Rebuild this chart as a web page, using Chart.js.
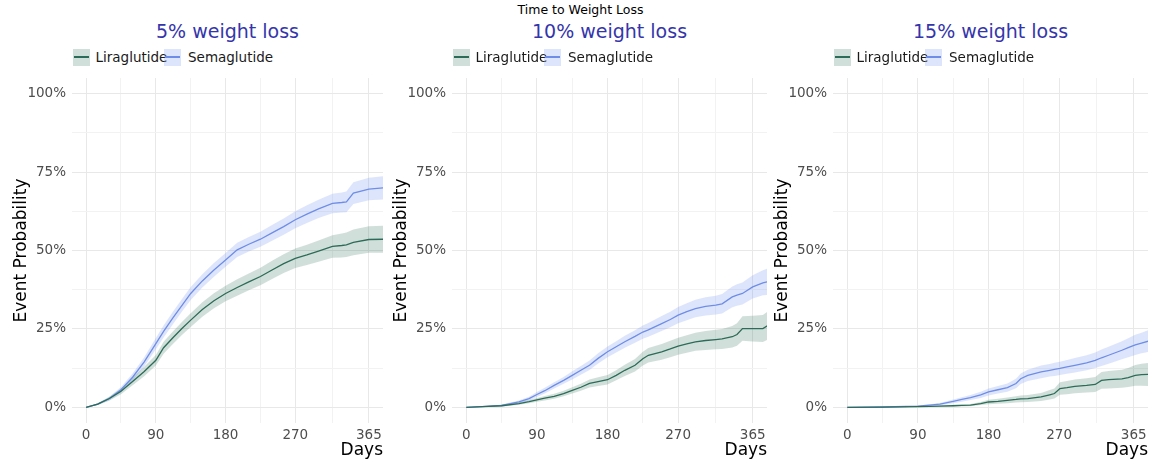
<!DOCTYPE html>
<html>
<head>
<meta charset="utf-8">
<script src="https://cdn.jsdelivr.net/npm/chart.js@4.4.0/dist/chart.umd.min.js"></script>
<style>
  body { margin: 0; background: #fff; width: 1151px; height: 462px; position: relative; overflow: hidden; font-family: "DejaVu Sans", sans-serif; }
  .abs { position: absolute; white-space: nowrap; }
  canvas { position: absolute; }
  .main { font-size: 12.5px; line-height: 12.5px; top: 3.5px; left: 5px; width: 1151px; text-align: center; color: #000; }
  .ptitle { font-size: 19px; line-height: 19px; top: 21.5px; color: #3535ab; text-align: center; }
  .key { position: absolute; width: 17px; height: 17px; top: 48.5px; }
  .key span { position: absolute; left: 1px; right: 1px; top: 7.8px; height: 1.5px; }
  .ltext { font-size: 13.5px; line-height: 13.5px; top: 50.5px; color: #1a1a1a; }
</style>
</head>
<body>
<div class="abs main">Time to Weight Loss</div>
<script>
// panel titles and series names
const panelTitles = ["5% weight loss", "10% weight loss", "15% weight loss"];
const seriesNames = ["Liraglutide", "Semaglutide"];

// x / y tick labels
const xTickLabels = [0, 90, 180, 270, 365];
const yTickLabels = ["0%", "25%", "50%", "75%", "100%"];

// 5% weight loss (event probability in %)
const days5 = [0, 15, 30, 45, 60, 75, 90, 100, 112, 124, 135, 150, 165, 180, 195, 210, 225, 240, 255, 270, 285, 300, 318, 330, 336, 345, 365, 385];
const lira5 = [0, 1.0, 2.8, 5.1, 8.2, 11.4, 15.0, 19.0, 22.2, 25.2, 27.8, 31.2, 34.0, 36.3, 38.2, 40.0, 41.7, 43.8, 45.8, 47.5, 48.6, 49.8, 51.3, 51.6, 51.8, 52.6, 53.5, 53.6];
const lira5Lo = [0, 0.7, 2.2, 4.2, 7.0, 9.9, 13.3, 17.1, 20.2, 23.1, 25.6, 28.9, 31.6, 33.8, 35.6, 37.3, 38.9, 40.9, 42.8, 44.4, 45.4, 46.4, 47.7, 47.8, 47.9, 48.5, 49.3, 49.3];
const lira5Hi = [0, 1.3, 3.4, 6.0, 9.4, 12.9, 16.7, 20.9, 24.2, 27.3, 30.0, 33.5, 36.4, 38.8, 40.8, 42.7, 44.5, 46.7, 48.8, 50.6, 51.8, 53.2, 54.9, 55.4, 55.7, 56.7, 57.7, 57.9];
const sema5 = [0, 1.0, 2.8, 5.6, 9.6, 14.5, 20.3, 24.2, 28.5, 32.6, 36.3, 40.3, 43.8, 47.0, 50.2, 52.0, 53.6, 55.6, 57.6, 59.8, 61.6, 63.3, 65.0, 65.3, 65.5, 68.3, 69.6, 70.0];
const sema5Lo = [0, 0.7, 2.2, 4.7, 8.4, 13.0, 18.5, 22.3, 26.5, 30.6, 34.2, 38.2, 41.6, 44.8, 47.9, 49.7, 51.2, 53.1, 55.0, 57.1, 58.8, 60.4, 61.9, 62.1, 62.2, 64.8, 66.0, 66.3];
const sema5Hi = [0, 1.3, 3.4, 6.5, 10.8, 16.0, 22.1, 26.1, 30.5, 34.6, 38.4, 42.4, 46.0, 49.2, 52.5, 54.3, 56.0, 58.1, 60.2, 62.5, 64.4, 66.2, 68.1, 68.5, 68.8, 71.8, 73.2, 73.7];

// 10% weight loss
const days10 = [0, 20, 45, 67, 80, 90, 100, 112, 124, 135, 146, 157, 168, 180, 191, 202, 215, 225, 232, 249, 260, 270, 281, 292, 305, 318, 326, 339, 345, 352, 365, 378, 385];
const lira10 = [0, 0.2, 0.5, 1.2, 1.8, 2.4, 2.9, 3.5, 4.4, 5.4, 6.4, 7.6, 8.2, 8.8, 10.2, 11.8, 13.4, 15.5, 16.6, 17.7, 18.6, 19.5, 20.2, 20.9, 21.3, 21.6, 21.8, 22.5, 23.2, 25.1, 25.1, 25.1, 26.2];
const lira10Lo = [0, 0.1, 0.2, 0.8, 1.3, 1.8, 2.2, 2.7, 3.5, 4.4, 5.3, 6.3, 6.8, 7.3, 8.6, 10.0, 11.4, 13.3, 14.3, 15.2, 16.0, 16.8, 17.4, 18.0, 18.3, 18.5, 18.6, 19.1, 19.6, 21.2, 21.0, 20.8, 21.7];
const lira10Hi = [0, 0.3, 0.8, 1.6, 2.3, 3.0, 3.6, 4.3, 5.3, 6.4, 7.5, 8.9, 9.6, 10.3, 11.8, 13.6, 15.4, 17.7, 18.9, 20.2, 21.2, 22.2, 23.0, 23.8, 24.3, 24.7, 25.0, 25.9, 26.8, 29.0, 29.2, 29.4, 30.7];
const sema10 = [0, 0.2, 0.6, 1.7, 2.8, 4.1, 5.3, 7.0, 8.6, 10.2, 11.8, 13.4, 15.6, 17.7, 19.3, 20.9, 22.6, 24.0, 24.7, 26.7, 28.0, 29.4, 30.5, 31.5, 32.2, 32.6, 33.0, 35.2, 35.8, 36.3, 38.4, 39.7, 40.1];
const sema10Lo = [0, 0.1, 0.3, 1.2, 2.2, 3.3, 4.4, 6.0, 7.5, 8.9, 10.4, 11.9, 14.0, 16.0, 17.5, 19.0, 20.6, 21.9, 22.5, 24.3, 25.5, 26.8, 27.8, 28.7, 29.3, 29.6, 29.9, 31.9, 32.4, 32.8, 34.7, 35.7, 35.9];
const sema10Hi = [0, 0.3, 0.9, 2.2, 3.4, 4.9, 6.2, 8.0, 9.7, 11.5, 13.2, 14.9, 17.2, 19.4, 21.1, 22.8, 24.6, 26.1, 26.9, 29.1, 30.5, 32.0, 33.2, 34.3, 35.1, 35.6, 36.1, 38.5, 39.2, 39.8, 42.1, 43.7, 44.3];

// 15% weight loss
const days15 = [0, 45, 90, 105, 118, 135, 146, 157, 170, 180, 192, 204, 215, 221, 230, 247, 258, 264, 271, 280, 290, 305, 316, 324, 333, 350, 358, 367, 375, 385];
const lira15 = [0, 0.05, 0.2, 0.3, 0.4, 0.5, 0.6, 0.7, 1.2, 1.7, 1.9, 2.2, 2.5, 2.7, 2.8, 3.3, 4.0, 4.4, 6.0, 6.3, 6.7, 7.0, 7.3, 8.6, 8.8, 9.1, 9.5, 10.2, 10.4, 10.5];
const lira15Lo = [0, 0, 0.1, 0.15, 0.2, 0.2, 0.3, 0.35, 0.7, 1.0, 1.1, 1.3, 1.5, 1.6, 1.7, 2.0, 2.5, 2.8, 4.0, 4.2, 4.5, 4.7, 4.9, 5.9, 6.0, 6.2, 6.5, 6.9, 6.9, 6.8];
const lira15Hi = [0, 0.1, 0.3, 0.45, 0.6, 0.8, 0.9, 1.05, 1.7, 2.4, 2.7, 3.1, 3.5, 3.8, 3.9, 4.6, 5.5, 6.0, 8.0, 8.4, 8.9, 9.3, 9.7, 11.3, 11.6, 12.0, 12.5, 13.5, 13.9, 14.2];
const sema15 = [0, 0.1, 0.4, 0.7, 1.0, 1.9, 2.5, 3.1, 4.0, 4.9, 5.6, 6.3, 7.6, 9.1, 10.2, 11.3, 11.8, 12.1, 12.4, 12.9, 13.4, 14.2, 15.0, 15.8, 16.6, 18.2, 19.0, 19.9, 20.5, 21.2];
const sema15Lo = [0, 0.05, 0.2, 0.4, 0.6, 1.3, 1.8, 2.3, 3.0, 3.8, 4.4, 5.0, 6.1, 7.4, 8.4, 9.3, 9.8, 10.0, 10.3, 10.7, 11.1, 11.8, 12.5, 13.2, 13.9, 15.3, 16.0, 16.7, 17.2, 17.7];
const sema15Hi = [0, 0.15, 0.6, 1.0, 1.4, 2.5, 3.2, 3.9, 5.0, 6.0, 6.8, 7.6, 9.1, 10.8, 12.0, 13.3, 13.8, 14.2, 14.5, 15.1, 15.7, 16.6, 17.5, 18.4, 19.3, 21.1, 22.0, 23.1, 23.8, 24.7];

const liraLine = "#2c6b57";
const liraBand = "rgba(45,110,90,0.22)";
const semaLine = "#6f8de6";
const semaBand = "rgba(100,135,240,0.22)";

const panels = [
  { days: days5, lira: [lira5, lira5Lo, lira5Hi], sema: [sema5, sema5Lo, sema5Hi], left: 0, width: 383 },
  { days: days10, lira: [lira10, lira10Lo, lira10Hi], sema: [sema10, sema10Lo, sema10Hi], left: 380, width: 387 },
  { days: days15, lira: [lira15, lira15Lo, lira15Hi], sema: [sema15, sema15Lo, sema15Hi], left: 761, width: 387 },
];

const yAxisW = 72, xAxisH = 39, areaTop = 78, canvasH = 384;
const xMinor = [45, 135, 225, 317.5];
const yTickValues = [0, 12.5, 25, 37.5, 50, 62.5, 75, 87.5, 100];
const gridMajor = "#e8e8e8", gridMinor = "#f2f2f2";

function pts(xs, ys) {
  return xs.map((x, i) => ({ x: x, y: ys[i] }));
}

function addText(cls, text, left, top, extra) {
  const d = document.createElement("div");
  d.className = "abs " + cls;
  d.textContent = text;
  d.style.left = left + "px";
  if (top != null) d.style.top = top + "px";
  if (extra) Object.assign(d.style, extra);
  document.body.appendChild(d);
  return d;
}

function addKey(left, fill, line) {
  const k = document.createElement("div");
  k.className = "key";
  k.style.left = left + "px";
  k.style.background = fill;
  const s = document.createElement("span");
  s.style.background = line;
  k.appendChild(s);
  document.body.appendChild(k);
}

panels.forEach((p, i) => {
  const areaLeft = p.left + yAxisW;
  const areaRight = p.left + p.width;

  // title + legend
  addText("ptitle", panelTitles[i], areaLeft, null, { width: (areaRight - areaLeft) + "px" });
  addKey(areaLeft + 0.7, liraBand, liraLine);
  addText("ltext", seriesNames[0], areaLeft + 23.5);
  addKey(areaLeft + 92, semaBand, semaLine);
  addText("ltext", seriesNames[1], areaLeft + 116);

  const cv = document.createElement("canvas");
  cv.width = p.width;
  cv.height = canvasH;
  cv.style.left = p.left + "px";
  cv.style.top = areaTop + "px";
  document.body.appendChild(cv);

  const band = (data, fill, bg) => ({
    data: pts(p.days, data), borderWidth: 0, pointRadius: 0, fill: fill,
    backgroundColor: bg, borderColor: "rgba(0,0,0,0)"
  });

  new Chart(cv, {
    type: "line",
    data: {
      datasets: [
        { label: seriesNames[0], data: pts(p.days, p.lira[0]), borderColor: liraLine, borderWidth: 1.3, pointRadius: 0, fill: false, tension: 0 },
        { label: seriesNames[1], data: pts(p.days, p.sema[0]), borderColor: semaLine, borderWidth: 1.3, pointRadius: 0, fill: false, tension: 0 },
        band(p.lira[1], false, liraBand),
        band(p.lira[2], "-1", liraBand),
        band(p.sema[1], false, semaBand),
        band(p.sema[2], "-1", semaBand),
      ],
    },
    options: {
      responsive: false,
      animation: false,
      layout: { padding: 0 },
      plugins: { legend: { display: false }, tooltip: { enabled: false }, title: { display: false } },
      scales: {
        x: {
          type: "linear",
          min: -18.25,
          max: 383.25,
          border: { display: false },
          grid: {
            drawTicks: false,
            color: (c) => (xMinor.includes(c.tick.value) ? gridMinor : gridMajor),
            lineWidth: 1,
          },
          afterBuildTicks: (s) => { s.ticks = [0, 45, 90, 135, 180, 225, 270, 317.5, 365].map((v) => ({ value: v })); },
          afterFit: (s) => { s.height = xAxisH; s.paddingLeft = 0; s.paddingRight = 0; },
          ticks: {
            autoSkip: false, maxRotation: 0, padding: 4.5,
            color: "#4d4d4d", font: { family: "DejaVu Sans", size: 13.5 },
            callback: (v) => (xTickLabels.includes(v) ? String(v) : ""),
          },
          title: {
            display: true, text: "Days", align: "end", color: "#000",
            font: { family: "DejaVu Sans", size: 17 }, padding: { top: 0, bottom: 1.3 },
          },
        },
        y: {
          type: "linear",
          min: -5,
          max: 105,
          border: { display: false },
          grid: {
            drawTicks: false,
            color: (c) => (c.tick.value % 25 === 0 ? gridMajor : gridMinor),
            lineWidth: 1,
          },
          afterBuildTicks: (s) => { s.ticks = yTickValues.map((v) => ({ value: v })); },
          afterFit: (s) => { s.width = yAxisW; s.paddingTop = 0; s.paddingBottom = 0; },
          ticks: {
            autoSkip: false, padding: 6,
            color: "#4d4d4d", font: { family: "DejaVu Sans", size: 13.5 },
            callback: (v) => (v % 25 === 0 ? yTickLabels[v / 25] : ""),
          },
          title: {
            display: true, text: "Event Probability", color: "#000",
            font: { family: "DejaVu Sans", size: 17 }, padding: { top: 11.5, bottom: 0 },
          },
        },
      },
    },
  });
});
</script>
</body>
</html>
